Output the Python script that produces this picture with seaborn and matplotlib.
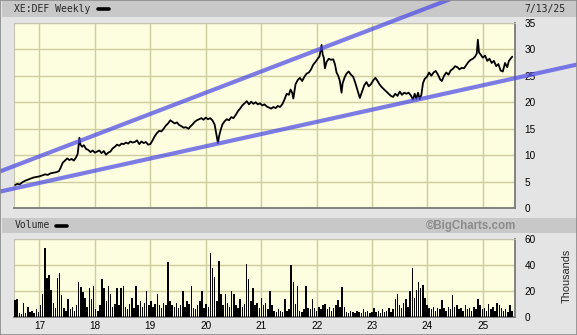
import numpy as np
import pandas as pd
import matplotlib
matplotlib.use("Agg")
import matplotlib.pyplot as plt
from matplotlib.patches import Rectangle
from matplotlib.lines import Line2D
import seaborn as sns

# ---------------- data ----------------
price_years = [
    2016.56, 2016.60, 2016.64, 2016.69, 2016.74, 2016.79, 2016.84, 2016.89, 2016.94, 2016.99,
    2017.05, 2017.10, 2017.15, 2017.20, 2017.25, 2017.30, 2017.35, 2017.38, 2017.42, 2017.46,
    2017.50, 2017.54, 2017.58, 2017.62, 2017.66, 2017.69, 2017.72, 2017.74, 2017.77, 2017.80,
    2017.84, 2017.88, 2017.92, 2017.96, 2018.00, 2018.04, 2018.08, 2018.12, 2018.16, 2018.20,
    2018.24, 2018.28, 2018.32, 2018.36, 2018.40, 2018.44, 2018.48, 2018.52, 2018.56, 2018.60,
    2018.64, 2018.68, 2018.72, 2018.76, 2018.80, 2018.84, 2018.88, 2018.92, 2018.96, 2019.00,
    2019.04, 2019.08, 2019.12, 2019.16, 2019.20, 2019.24, 2019.28, 2019.32, 2019.36, 2019.40,
    2019.44, 2019.48, 2019.52, 2019.56, 2019.60, 2019.64, 2019.69, 2019.72, 2019.76, 2019.80,
    2019.84, 2019.88, 2019.92, 2019.96, 2020.00, 2020.04, 2020.08, 2020.12, 2020.16, 2020.19,
    2020.22, 2020.24, 2020.27, 2020.30, 2020.34, 2020.38, 2020.42, 2020.46, 2020.50, 2020.54,
    2020.58, 2020.62, 2020.66, 2020.70, 2020.74, 2020.78, 2020.82, 2020.86, 2020.90, 2020.94,
    2020.98, 2021.02, 2021.06, 2021.10, 2021.14, 2021.18, 2021.22, 2021.26, 2021.30, 2021.34,
    2021.38, 2021.42, 2021.46, 2021.50, 2021.53, 2021.56, 2021.58, 2021.62, 2021.66, 2021.70,
    2021.74, 2021.78, 2021.82, 2021.86, 2021.90, 2021.94, 2021.98, 2022.02, 2022.05, 2022.07,
    2022.09, 2022.11, 2022.13, 2022.15, 2022.18, 2022.22, 2022.26, 2022.30, 2022.33, 2022.36,
    2022.39, 2022.42, 2022.45, 2022.47, 2022.51, 2022.54, 2022.58, 2022.62, 2022.66, 2022.70,
    2022.74, 2022.78, 2022.82, 2022.86, 2022.90, 2022.94, 2022.98, 2023.02, 2023.06, 2023.10,
    2023.14, 2023.18, 2023.22, 2023.26, 2023.30, 2023.34, 2023.38, 2023.42, 2023.46, 2023.50,
    2023.54, 2023.58, 2023.62, 2023.66, 2023.70, 2023.74, 2023.77, 2023.80, 2023.83, 2023.86,
    2023.89, 2023.92, 2023.95, 2023.99, 2024.03, 2024.07, 2024.11, 2024.15, 2024.19, 2024.23,
    2024.26, 2024.30, 2024.34, 2024.38, 2024.42, 2024.46, 2024.50, 2024.54, 2024.58, 2024.62,
    2024.66, 2024.70, 2024.74, 2024.78, 2024.82, 2024.86, 2024.89, 2024.91, 2024.93, 2024.96,
    2025.00, 2025.04, 2025.08, 2025.12, 2025.16, 2025.20, 2025.24, 2025.28, 2025.32, 2025.36,
    2025.40, 2025.44, 2025.47, 2025.50, 2025.53,
]
price_values = [
    4.4, 4.6, 4.5, 4.9, 5.2, 5.4, 5.6, 5.8, 5.9, 6.0,
    6.2, 6.4, 6.3, 6.6, 6.7, 6.8, 7.0, 7.6, 8.6, 9.0,
    9.4, 9.1, 9.3, 9.0, 9.6, 10.3, 13.3, 12.0, 11.6, 11.9,
    11.2, 11.0, 10.6, 10.9, 10.5, 10.7, 10.9, 10.4, 10.8, 10.1,
    10.5, 10.7, 11.3, 11.6, 12.0, 11.8, 12.2, 12.1, 12.4, 12.2,
    12.6, 12.4, 12.5, 12.8, 12.1, 12.6, 12.3, 12.5, 12.0, 12.1,
    12.8, 13.6, 14.2, 14.6, 14.5, 15.0, 15.6, 16.0, 16.6, 16.3,
    16.0, 16.2, 15.7, 15.5, 15.2, 15.3, 15.0, 15.4, 15.8, 16.3,
    16.6, 16.8, 17.0, 16.7, 17.1, 16.8, 17.0, 16.6, 15.8, 14.0,
    12.3, 13.6, 14.8, 15.8, 16.4, 16.8, 16.6, 17.2, 17.0, 17.6,
    18.3, 18.8, 19.4, 19.8, 20.2, 19.6, 20.1, 19.7, 20.0, 19.6,
    19.8, 19.4, 19.6, 19.2, 19.0, 18.8, 19.1, 18.9, 19.3, 19.1,
    19.6, 20.5, 21.6, 21.4, 22.4, 21.8, 20.7, 23.4, 24.2, 24.6,
    24.0, 24.8, 25.4, 25.6, 26.2, 27.1, 27.6, 28.2, 28.6, 29.6,
    30.8, 29.0, 28.4, 26.4, 27.6, 28.2, 28.0, 28.1, 27.2, 25.6,
    25.0, 24.0, 21.8, 23.6, 24.8, 25.4, 25.8, 25.2, 24.8, 23.6,
    22.2, 20.8, 22.0, 23.2, 23.8, 23.0, 23.4, 24.1, 24.6, 24.0,
    23.3, 22.8, 22.4, 22.0, 21.6, 21.2, 21.0, 21.6, 21.2, 22.0,
    21.4, 21.8, 21.6, 21.8, 21.3, 20.5, 21.6, 20.6, 21.8, 20.6,
    21.4, 23.6, 24.4, 24.8, 25.6, 25.0, 25.6, 25.9, 25.2, 24.3,
    24.0, 25.0, 25.6, 25.2, 26.0, 26.3, 26.8, 26.6, 26.2, 26.5,
    26.4, 27.0, 27.6, 28.0, 28.2, 28.6, 29.2, 31.8, 29.4, 29.0,
    28.4, 28.8, 27.8, 28.2, 27.4, 27.8, 26.8, 27.2, 26.0, 25.8,
    27.4, 26.6, 27.8, 28.2, 28.6,
]

# volume in thousands, one bar per two weeks starting at the first bar
vol_start = 2016.545
vol_step = 2 / 52.18
volume = [
    13, 14, 3, 2, 11, 3, 8, 4, 5, 3, 6, 4, 9, 18, 53, 30, 32, 21, 11, 7,
    30, 34, 17, 7, 5, 14, 6, 8, 5, 9, 27, 23, 19, 15, 8, 22, 14, 24, 6, 5,
    9, 29, 22, 12, 24, 18, 8, 10, 22, 9, 22, 24, 8, 6, 10, 15, 7, 24, 9, 12,
    8, 11, 20, 9, 12, 8, 10, 18, 9, 7, 11, 9, 42, 12, 9, 8, 11, 7, 9, 20,
    8, 12, 10, 24, 7, 6, 9, 12, 20, 7, 10, 8, 49, 38, 31, 12, 43, 18, 9, 18,
    11, 8, 20, 18, 9, 7, 14, 8, 10, 41, 29, 12, 22, 9, 11, 7, 15, 9, 11, 6,
    20, 9, 5, 4, 6, 5, 4, 14, 5, 6, 40, 27, 10, 24, 5, 4, 6, 24, 7, 6,
    14, 7, 5, 8, 6, 9, 10, 6, 8, 5, 7, 9, 13, 8, 23, 8, 4, 3, 5, 4,
    3, 5, 4, 3, 6, 4, 5, 3, 4, 7, 4, 5, 3, 6, 4, 5, 7, 4, 6, 14,
    18, 9, 7, 11, 14, 8, 20, 38, 15, 21, 27, 22, 25, 15, 9, 7, 6, 8, 5, 7,
    6, 13, 7, 5, 8, 6, 17, 8, 9, 6, 7, 5, 9, 6, 7, 5, 8, 6, 14, 9,
    6, 7, 5, 10, 6, 8, 5, 11, 9, 7, 5, 6, 4, 9, 5,
]

# trend lines: anchor years and values at those years
trend_years = [2016.0, 2027.0]
upper_trend = [5.8, 49.8]
lower_trend = [2.49, 27.8]

year_ticks = [2017, 2018, 2019, 2020, 2021, 2022, 2023, 2024, 2025]
year_labels = ["17", "18", "19", "20", "21", "22", "23", "24", "25"]
price_ticks = [0, 5, 10, 15, 20, 25, 30, 35]
vol_ticks = [0, 20, 40, 60]

# ---------------- styling ----------------
sns.set_style("white")
plt.rcParams["font.family"] = ["Liberation Sans", "DejaVu Sans"]

W, H = 577, 335
BG = "#e4e4e4"
BAR = "#c8c8c8"
PLOT_BG = "#fdfddf"
GRID = "#cdcd9e"
BLUE = "#4a4ae6"

fig = plt.figure(figsize=(W / 100, H / 100), dpi=100, facecolor=BG)

def fx(px):
    return px / W

def fy(py):
    return 1 - py / H

# header strips
fig.add_artist(Rectangle((fx(2), fy(17)), fx(575), 17 / H, transform=fig.transFigure,
                         facecolor=BAR, edgecolor="none", zorder=-1))
fig.add_artist(Rectangle((fx(2), fy(233)), fx(575), 15 / H, transform=fig.transFigure,
                         facecolor=BAR, edgecolor="none", zorder=-1))

ax = fig.add_axes([fx(14), fy(208.3), fx(501), 185.6 / H])
axv = fig.add_axes([fx(14), fy(317), fx(501), 78 / H])

xlim = (2016.54, 2025.58)

for a in (ax, axv):
    a.set_facecolor(PLOT_BG)
    a.set_xlim(*xlim)
    a.set_xticks(year_ticks)
    a.grid(True, color=GRID, linewidth=1.0)
    a.set_axisbelow(True)
    a.yaxis.tick_right()
    a.tick_params(axis="both", length=0, labelsize=7.2, colors="black")
    a.tick_params(axis="y", pad=7)
    for s in ("top", "left"):
        a.spines[s].set_color("#c4c4b0")
        a.spines[s].set_linewidth(0.8)
    for s in ("bottom", "right"):
        a.spines[s].set_color("#7a7a7a")
        a.spines[s].set_linewidth(1.3)

# price
df_price = pd.DataFrame({"year": price_years, "price": price_values})
sns.lineplot(data=df_price, x="year", y="price", ax=ax, color="black",
             linewidth=1.3, estimator=None, sort=True, zorder=3)
ax.set_ylim(0, 35)
ax.set_yticks(price_ticks)
ax.set_xticklabels([])
ax.set_xlabel("")
ax.set_ylabel("")

# trend lines (extend beyond the plot like the reference)
for vals in (upper_trend, lower_trend):
    ax.plot(trend_years, vals, color=BLUE, alpha=0.72, linewidth=3.0,
            clip_on=False, zorder=6, solid_capstyle="butt")

# volume
vol_years = vol_start + vol_step * np.arange(len(volume))
axv.bar(vol_years, volume, width=vol_step * 0.7, color="black", linewidth=0,
        align="edge", zorder=3)
axv.set_ylim(0, 60)
axv.set_yticks(vol_ticks)
axv.set_xticklabels(year_labels)
axv.tick_params(axis="x", pad=3)
axv.set_xlabel("")
axv.set_ylabel("")

# texts
mono = ["DejaVu Sans Mono"]
fig.text(fx(14.5), fy(9), "XE:DEF Weekly", family=mono, fontsize=7, va="center", ha="left")
fig.add_artist(Line2D([fx(98), fx(109)], [fy(9), fy(9)], color="black", linewidth=2.6,
                      solid_capstyle="round", transform=fig.transFigure))
fig.text(fx(565), fy(9), "7/13/25", family=mono, fontsize=7, va="center", ha="right")
fig.text(fx(14.5), fy(225.5), "Volume", family=mono, fontsize=7, va="center", ha="left")
fig.add_artist(Line2D([fx(56), fx(67)], [fy(225.5), fy(225.5)], color="black", linewidth=2.6,
                      solid_capstyle="round", transform=fig.transFigure))
fig.text(fx(516), fy(225.5), "\u00a9BigCharts.com", fontsize=8.3, fontweight="bold",
         color="#8c8c8c", va="center", ha="right")
fig.text(fx(567), fy(276), "Thousands", fontsize=7.8, rotation=90, va="center", ha="center")

# outer frame
fig.add_artist(Rectangle((0, 0), 1, 1, transform=fig.transFigure, facecolor="none",
                         edgecolor="#8a8a8a", linewidth=1.2, zorder=10))

fig.savefig("out.png", dpi=100, facecolor=BG)
